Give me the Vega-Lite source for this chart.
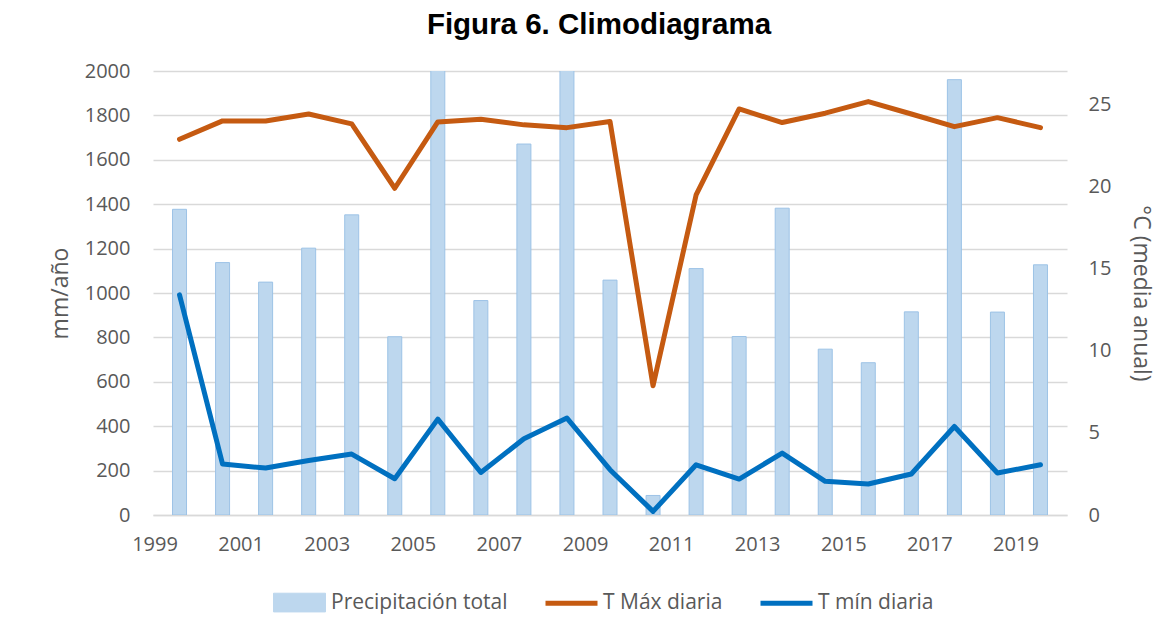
{
  "$schema": "https://vega.github.io/schema/vega-lite/v6.json",
  "autosize": {"type": "none"},
  "width": 914,
  "height": 444,
  "padding": {"left": 153, "top": 71, "right": 107, "bottom": 118},
  "background": "white",
  "title": {
    "text": "Figura 6. Climodiagrama",
    "font": "Liberation Sans",
    "fontSize": 29.5,
    "fontWeight": "bold",
    "color": "#000000",
    "anchor": "middle",
    "offset": 21,
    "dx": -11
  },
  "data": {
    "values": [
      {"año": 1999, "Precipitación total": 1377, "T Máx diaria": 22.88, "T mín diaria": 13.41},
      {"año": 2000, "Precipitación total": 1137, "T Máx diaria": 24.0, "T mín diaria": 3.10},
      {"año": 2001, "Precipitación total": 1049, "T Máx diaria": 24.0, "T mín diaria": 2.86},
      {"año": 2002, "Precipitación total": 1202, "T Máx diaria": 24.42, "T mín diaria": 3.32},
      {"año": 2003, "Precipitación total": 1352, "T Máx diaria": 23.82, "T mín diaria": 3.71},
      {"año": 2004, "Precipitación total": 803, "T Máx diaria": 19.9, "T mín diaria": 2.21},
      {"año": 2005, "Precipitación total": 2150, "T Máx diaria": 23.94, "T mín diaria": 5.84},
      {"año": 2006, "Precipitación total": 966, "T Máx diaria": 24.1, "T mín diaria": 2.59},
      {"año": 2007, "Precipitación total": 1671, "T Máx diaria": 23.76, "T mín diaria": 4.64},
      {"año": 2008, "Precipitación total": 2150, "T Máx diaria": 23.59, "T mín diaria": 5.90},
      {"año": 2009, "Precipitación total": 1058, "T Máx diaria": 23.97, "T mín diaria": 2.76},
      {"año": 2010, "Precipitación total": 88, "T Máx diaria": 7.87, "T mín diaria": 0.22},
      {"año": 2011, "Precipitación total": 1110, "T Máx diaria": 19.49, "T mín diaria": 3.06},
      {"año": 2012, "Precipitación total": 804, "T Máx diaria": 24.73, "T mín diaria": 2.19},
      {"año": 2013, "Precipitación total": 1382, "T Máx diaria": 23.9, "T mín diaria": 3.77},
      {"año": 2014, "Precipitación total": 747, "T Máx diaria": 24.47, "T mín diaria": 2.05},
      {"año": 2015, "Precipitación total": 686, "T Máx diaria": 25.18, "T mín diaria": 1.89},
      {"año": 2016, "Precipitación total": 915, "T Máx diaria": 24.42, "T mín diaria": 2.50},
      {"año": 2017, "Precipitación total": 1961, "T Máx diaria": 23.65, "T mín diaria": 5.39},
      {"año": 2018, "Precipitación total": 914, "T Máx diaria": 24.2, "T mín diaria": 2.56},
      {"año": 2019, "Precipitación total": 1127, "T Máx diaria": 23.59, "T mín diaria": 3.06}
    ]
  },
  "encoding": {
    "x": {
      "field": "año",
      "type": "quantitative",
      "scale": {"domain": [1998.5, 2019.5], "nice": false, "zero": false},
      "axis": {
        "title": null,
        "values": [1999, 2001, 2003, 2005, 2007, 2009, 2011, 2013, 2015, 2017, 2019],
        "format": "d",
        "labelOffset": -25,
        "ticks": false,
        "grid": false,
        "domain": true,
        "domainColor": "#d9d9d9",
        "domainWidth": 1.5,
        "labelPadding": 19,
        "labelFlush": false,
        "labelOverlap": false
      }
    }
  },
  "layer": [
    {
      "mark": {"type": "bar", "width": 14, "stroke": "#9dc3e6", "strokeWidth": 1, "clip": true},
      "encoding": {
        "y": {
          "field": "Precipitación total",
          "type": "quantitative",
          "scale": {"domain": [0, 2000], "nice": false},
          "axis": {
            "orient": "left",
            "title": "mm/año",
            "format": "d",
            "values": [0, 200, 400, 600, 800, 1000, 1200, 1400, 1600, 1800, 2000],
            "grid": true,
            "gridColor": "#d9d9d9",
            "gridWidth": 1.5,
            "domain": false,
            "ticks": false,
            "labelPadding": 23,
            "titlePadding": 12
          }
        },
        "color": {
          "datum": "Precipitación total",
          "type": "nominal",
          "title": null,
          "scale": {
            "domain": ["Precipitación total", "T Máx diaria", "T mín diaria"],
            "range": ["#bdd7ee", "#c55a11", "#0070c0"]
          },
          "legend": {
            "title": null,
            "orient": "none",
            "direction": "horizontal",
            "legendX": 136,
            "legendY": 521,
            "symbolType": {"expr": "datum.value === 'Precipitación total' ? 'M-1,-0.36L1,-0.36L1,0.36L-1,0.36Z' : 'M-1,0L1,0'"},
            "symbolSize": 2704,
            "symbolStrokeWidth": {"expr": "datum.value === 'Precipitación total' ? 1 : 5"},
            "symbolOpacity": 1,
            "labelOffset": 21,
            "columnPadding": 27
          }
        }
      }
    },
    {
      "transform": [{"fold": ["T Máx diaria", "T mín diaria"], "as": ["serie", "temp"]}],
      "mark": {"type": "line", "strokeWidth": 5, "strokeCap": "round", "strokeJoin": "round"},
      "encoding": {
        "y": {
          "field": "temp",
          "type": "quantitative",
          "scale": {"domain": [0, 27.04], "nice": false},
          "axis": {
            "orient": "right",
            "title": "°C (media anual)",
            "values": [0, 5, 10, 15, 20, 25],
            "grid": false,
            "domain": false,
            "ticks": false,
            "labelPadding": 21,
            "titlePadding": 18
          }
        },
        "color": {"field": "serie", "type": "nominal", "title": null}
      }
    }
  ],
  "resolve": {"scale": {"y": "independent"}},
  "config": {
    "view": {"stroke": null},
    "axis": {
      "labelFont": "Open Sans",
      "labelFontSize": 20,
      "labelColor": "#595959",
      "titleFont": "Open Sans",
      "titleFontSize": 23,
      "titleFontWeight": "normal",
      "titleColor": "#595959"
    },
    "legend": {
      "labelFont": "Open Sans",
      "labelFontSize": 21,
      "labelColor": "#595959",
      "labelLimit": 400
    }
  }
}
